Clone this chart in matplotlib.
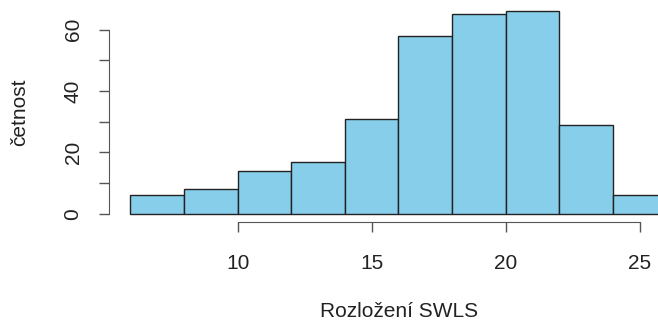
import numpy as np
import matplotlib.pyplot as plt

plt.rcParams['font.family'] = ['Liberation Sans', 'DejaVu Sans']

# histogram bins for SWLS score and their counts
bin_edges = [6, 8, 10, 12, 14, 16, 18, 20, 22, 24, 26]
counts = [6, 8, 14, 17, 31, 58, 65, 66, 29, 6]
xticks = [10, 15, 20, 25]
yticks = [0, 10, 20, 30, 40, 50, 60]
yticklabels = ['0', '', '20', '', '40', '', '60']

fig = plt.figure(figsize=(6.58, 3.23), dpi=100)
ax = fig.add_axes([109/658, 101/323, 1 - 109/658, 219/323])

edges = np.array(bin_edges)
ax.bar(edges[:-1], counts, width=np.diff(edges), align='edge',
       color='#87ceeb', edgecolor='#222222', linewidth=1.0)

ax.set_xlim(5.2, 25.69)
ax.set_ylim(-2.64, 68.64)

for s in ['top', 'right']:
    ax.spines[s].set_visible(False)
ax.spines['left'].set_bounds(0, 60)
ax.spines['bottom'].set_bounds(10, 25)
for s in ['left', 'bottom']:
    ax.spines[s].set_color('#555555')

ax.set_xticks(xticks)
ax.set_yticks(yticks)
ax.set_yticklabels(yticklabels, rotation=90, va='center')
ax.tick_params(length=7, width=1, color='#555555', labelsize=15, labelcolor='#222222')
ax.tick_params(axis='x', pad=16)
ax.tick_params(axis='y', pad=12)

ax.set_xlabel('Rozložení SWLS', fontsize=15, color='#222222')
ax.xaxis.label.set_va('center')
ax.xaxis.set_label_coords(0.528, -0.41)
ax.set_ylabel('četnost', fontsize=15, color='#222222')
ax.yaxis.label.set_va('center')
ax.yaxis.set_label_coords(-0.162, 0.5)

fig.savefig('out.png', dpi=100)
